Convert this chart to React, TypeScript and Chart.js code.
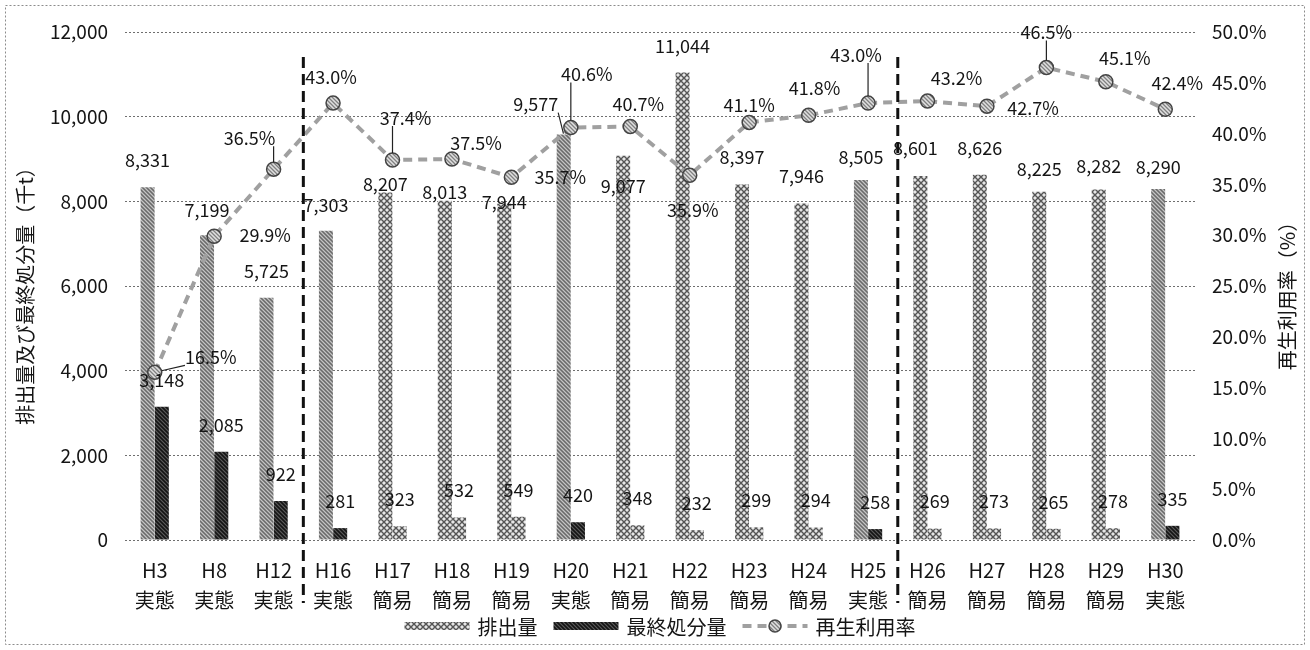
import React, { useEffect, useRef } from "react";
import { Chart, registerables } from "chart.js";

Chart.register(...registerables);

// ---- data ----
const years = ["H3", "H8", "H12", "H16", "H17", "H18", "H19", "H20", "H21", "H22", "H23", "H24", "H25", "H26", "H27", "H28", "H29", "H30"];
const surveyTypes = ["実態", "実態", "実態", "実態", "簡易", "簡易", "簡易", "実態", "簡易", "簡易", "簡易", "簡易", "実態", "簡易", "簡易", "簡易", "簡易", "実態"];
const emissions = [8331, 7199, 5725, 7303, 8207, 8013, 7944, 9577, 9077, 11044, 8397, 7946, 8505, 8601, 8626, 8225, 8282, 8290];
const finalDisposal = [3148, 2085, 922, 281, 323, 532, 549, 420, 348, 232, 299, 294, 258, 269, 273, 265, 278, 335];
const recyclingRate = [16.5, 29.9, 36.5, 43.0, 37.4, 37.5, 35.7, 40.6, 40.7, 35.9, 41.1, 41.8, 43.0, 43.2, 42.7, 46.5, 45.1, 42.4];
const dividerAfter = [2, 12];

const seriesNames = ["排出量", "最終処分量", "再生利用率"];
const leftTitle = "排出量及び最終処分量（千t）";
const rightTitle = "再生利用率（%）";

// ---- label nudges (style only) ----
const emissionLabelDx = [0, 0, 0, 0, 0, 0, 0, -28, 0, 0, 0, 0, 0, -5, 0, 0, 0, 0];
const emissionLabelDy = [-27, -25, -26, -26, -8, -9, -2, -30, 30, -26, -27, -27, -23, -28, -27, -23, -23, -22];
const emissionLeader = [0, 0, 0, 0, 0, 0, 0, 1, 0, 0, 0, 0, 0, 0, 0, 0, 0, 0];
const rateLabelDx = [56, 51, -24, -2, 13, 24, 49, 16, 8, 3, 0, 6, -12, 29, 46, 0, 19, 12];
const rateLabelDy = [-15, -1, -31, -26, -42, -16, 0, -53, -22, 35, -17, -27, -48, -23, 2, -35, -24, -26];
const rateLeader = [1, 0, 1, 0, 1, 0, 0, 1, 0, 0, 0, 0, 1, 0, 0, 1, 0, 0];

const FONT = '"Noto Sans CJK JP", "Noto Sans", sans-serif';

function makeCross(): CanvasPattern | string {
  const c = document.createElement("canvas");
  c.width = 6;
  c.height = 6;
  const g = c.getContext("2d")!;
  g.fillStyle = "#e6e6e6";
  g.fillRect(0, 0, 6, 6);
  g.strokeStyle = "#555555";
  g.lineWidth = 1.4;
  g.beginPath();
  g.moveTo(0, 0);
  g.lineTo(6, 6);
  g.moveTo(6, 0);
  g.lineTo(0, 6);
  g.stroke();
  return g.createPattern(c, "repeat") || "#a8a8a8";
}

function makeSpeckle(cols: string[]): CanvasPattern | string {
  const c = document.createElement("canvas");
  c.width = 4;
  c.height = 4;
  const g = c.getContext("2d")!;
  const m = [
    [0, 1, 0, 2],
    [2, 0, 1, 0],
    [0, 2, 0, 1],
    [1, 0, 2, 0],
  ];
  for (let y = 0; y < 4; y++)
    for (let x = 0; x < 4; x++) {
      g.fillStyle = cols[m[y][x]];
      g.fillRect(x, y, 1, 1);
    }
  return g.createPattern(c, "repeat") || cols[0];
}

function drawLeader(ctx: CanvasRenderingContext2D, cx: number, cy: number, w: number, h: number, tx: number, ty: number, r: number) {
  const px = Math.max(cx - w / 2, Math.min(tx, cx + w / 2));
  const py = Math.max(cy - h / 2, Math.min(ty, cy + h / 2));
  const dx = tx - px;
  const dy = ty - py;
  const d = Math.hypot(dx, dy);
  if (d < r + 2) return;
  ctx.save();
  ctx.strokeStyle = "#222";
  ctx.lineWidth = 1.2;
  ctx.setLineDash([]);
  ctx.beginPath();
  ctx.moveTo(px, py);
  ctx.lineTo(tx - (dx / d) * r, ty - (dy / d) * r);
  ctx.stroke();
  ctx.restore();
}

export default function App() {
  const ref = useRef<HTMLCanvasElement | null>(null);

  useEffect(() => {
    if (!ref.current) return;
    const cross = makeCross();
    const midSpeckle = makeSpeckle(["#8f8f8f", "#c4c4c4", "#6a6a6a"]);
    const darkSpeckle = makeSpeckle(["#2b2b2b", "#585858", "#141414"]);
    const markerFill = makeSpeckle(["#b5b5b5", "#e0e0e0", "#808080"]);

    const decor = {
      id: "decor",
      beforeDraw(chart: any) {
        const ctx = chart.ctx as CanvasRenderingContext2D;
        ctx.save();
        ctx.fillStyle = "#ffffff";
        ctx.fillRect(0, 0, chart.width, chart.height);
        ctx.strokeStyle = "#8c8c8c";
        ctx.lineWidth = 1;
        ctx.setLineDash([2, 2]);
        ctx.strokeRect(5.5, 5.5, chart.width - 11, chart.height - 11);
        ctx.restore();
      },
      afterDatasetsDraw(chart: any) {
        const ctx = chart.ctx as CanvasRenderingContext2D;
        const xs = chart.scales.x;
        const area = chart.chartArea;
        ctx.save();
        // dashed dividers
        ctx.strokeStyle = "#111";
        ctx.lineWidth = 3;
        ctx.setLineDash([11, 6]);
        dividerAfter.forEach((i) => {
          const x = (xs.getPixelForValue(i) + xs.getPixelForValue(i + 1)) / 2;
          ctx.beginPath();
          ctx.moveTo(x, area.top + 25);
          ctx.lineTo(x, area.bottom + 63);
          ctx.stroke();
        });
        ctx.setLineDash([]);

        ctx.font = `18px ${FONT}`;
        ctx.fillStyle = "#151515";
        ctx.textAlign = "center";
        ctx.textBaseline = "middle";
        const h = 16;

        const emMeta = chart.getDatasetMeta(1);
        emMeta.data.forEach((el: any, i: number) => {
          const t = emissions[i].toLocaleString("en-US");
          const cx = el.x + emissionLabelDx[i];
          const cy = el.y + emissionLabelDy[i];
          ctx.fillText(t, cx, cy);
          if (emissionLeader[i]) drawLeader(ctx, cx, cy, ctx.measureText(t).width, h, el.x, el.y, 1);
        });

        const fdMeta = chart.getDatasetMeta(2);
        fdMeta.data.forEach((el: any, i: number) => {
          ctx.fillText(finalDisposal[i].toLocaleString("en-US"), el.x, el.y - 27);
        });

        const rMeta = chart.getDatasetMeta(0);
        rMeta.data.forEach((el: any, i: number) => {
          const t = recyclingRate[i].toFixed(1) + "%";
          const cx = el.x + rateLabelDx[i];
          const cy = el.y + rateLabelDy[i];
          ctx.fillText(t, cx, cy);
          if (rateLeader[i]) drawLeader(ctx, cx, cy, ctx.measureText(t).width, h, el.x, el.y, 7);
        });
        ctx.restore();
      },
      afterDraw(chart: any) {
        const ctx = chart.ctx as CanvasRenderingContext2D;
        const area = chart.chartArea;
        ctx.save();
        ctx.fillStyle = "#151515";
        ctx.textAlign = "center";
        ctx.textBaseline = "middle";
        ctx.font = `20px ${FONT}`;
        const midY = (area.top + area.bottom) / 2 + 5;
        ctx.save();
        ctx.translate(25, midY);
        ctx.rotate(-Math.PI / 2);
        ctx.fillText(leftTitle, 0, 0);
        ctx.restore();
        ctx.save();
        ctx.translate(1287, midY);
        ctx.rotate(-Math.PI / 2);
        ctx.fillText(rightTitle, 0, 0);
        ctx.restore();

        // legend
        const sw = 65;
        const gap = 8;
        const sep = 16;
        const widths = seriesNames.map((n) => ctx.measureText(n).width);
        const total = widths.reduce((a, b) => a + b, 0) + 3 * (sw + gap) + 2 * sep;
        let x = (area.left + area.right) / 2 - total / 2;
        const ly = 626;
        ctx.textAlign = "left";
        seriesNames.forEach((n, i) => {
          if (i === 0) {
            ctx.fillStyle = cross as any;
            ctx.fillRect(x, ly - 4, sw, 8);
          } else if (i === 1) {
            ctx.fillStyle = darkSpeckle as any;
            ctx.fillRect(x, ly - 4, sw, 8);
          } else {
            ctx.strokeStyle = "#a0a0a0";
            ctx.lineWidth = 4;
            ctx.setLineDash([9, 6]);
            ctx.beginPath();
            ctx.moveTo(x, ly);
            ctx.lineTo(x + sw, ly);
            ctx.stroke();
            ctx.setLineDash([]);
            ctx.beginPath();
            ctx.arc(x + sw / 2, ly, 6, 0, Math.PI * 2);
            ctx.fillStyle = markerFill as any;
            ctx.fill();
            ctx.strokeStyle = "#444";
            ctx.lineWidth = 1.5;
            ctx.stroke();
          }
          x += sw + gap;
          ctx.fillStyle = "#151515";
          ctx.fillText(n, x, ly + 1);
          x += widths[i] + sep;
        });
        ctx.restore();
      },
    };

    const chart = new Chart(ref.current, {
      type: "bar",
      data: {
        labels: years.map((y, i) => [y, surveyTypes[i]]),
        datasets: [
          {
            type: "line",
            label: seriesNames[2],
            data: recyclingRate,
            yAxisID: "y2",
            borderColor: "#a0a0a0",
            borderWidth: 4,
            borderDash: [9, 6],
            pointRadius: 7,
            pointBackgroundColor: markerFill as any,
            pointBorderColor: "#444",
            pointBorderWidth: 1.5,
            tension: 0,
            order: 0,
          } as any,
          {
            type: "bar",
            label: seriesNames[0],
            data: emissions,
            yAxisID: "y",
            backgroundColor: surveyTypes.map((t) => (t === "実態" ? midSpeckle : cross)) as any,
            borderWidth: 0,
            categoryPercentage: 0.48,
            barPercentage: 0.98,
            order: 1,
          },
          {
            type: "bar",
            label: seriesNames[1],
            data: finalDisposal,
            yAxisID: "y",
            backgroundColor: surveyTypes.map((t) => (t === "実態" ? darkSpeckle : cross)) as any,
            borderWidth: 0,
            categoryPercentage: 0.48,
            barPercentage: 0.98,
            order: 1,
          },
        ],
      },
      options: {
        animation: false,
        responsive: false,
        devicePixelRatio: 1,
        layout: { padding: { top: 32, left: 0, right: 0, bottom: 0 } },
        plugins: { legend: { display: false }, tooltip: { enabled: false } },
        scales: {
          x: {
            grid: { display: false },
            border: { display: false },
            ticks: {
              color: "#151515",
              font: { family: FONT, size: 20, lineHeight: 1.5 },
              padding: 7,
              maxRotation: 0,
              autoSkip: false,
            },
            afterFit(s: any) {
              s.height = 110;
            },
          },
          y: {
            position: "left",
            min: 0,
            max: 12000,
            ticks: {
              stepSize: 2000,
              color: "#151515",
              font: { family: FONT, size: 19 },
              padding: 17,
              callback: (v: any) => Number(v).toLocaleString("en-US"),
            },
            grid: { color: "#6f6f6f", lineWidth: 1, drawTicks: false },
            border: { display: false, dash: [2, 2] },
            afterFit(s: any) {
              s.width = 125;
            },
          },
          y2: {
            position: "right",
            min: 0,
            max: 50,
            ticks: {
              stepSize: 5,
              color: "#151515",
              font: { family: FONT, size: 19 },
              padding: 17,
              callback: (v: any) => Number(v).toFixed(1) + "%",
            },
            grid: { display: false, drawTicks: false },
            border: { display: false },
            afterFit(s: any) {
              s.width = 115;
            },
          },
        },
      },
      plugins: [decor as any],
    });
    return () => chart.destroy();
  }, []);

  return (
    <div style={{ position: "fixed", left: 0, top: 0, width: 1310, height: 650, background: "#fff" }}>
      <canvas ref={ref} width={1310} height={650} style={{ display: "block" }} />
    </div>
  );
}
